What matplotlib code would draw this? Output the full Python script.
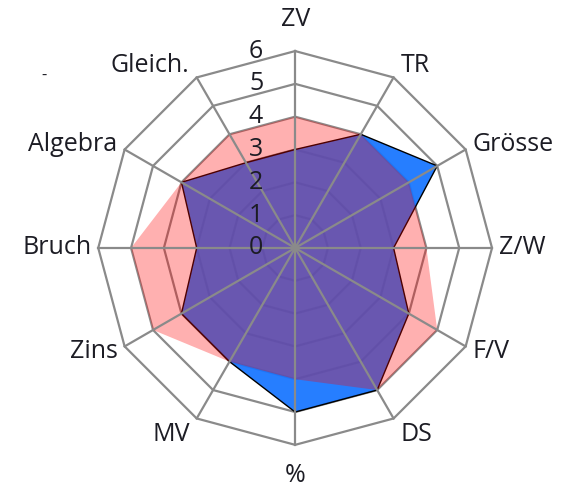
import numpy as np
import matplotlib
matplotlib.use("Agg")
import matplotlib.pyplot as plt

categories = ["ZV", "TR", "Grösse", "Z/W", "F/V", "DS", "%", "MV", "Zins", "Bruch", "Algebra", "Gleich."]
blue_vals = [3, 4, 5, 3, 4, 5, 5, 4, 4, 3, 4, 3]
red_vals = [4, 4, 4, 4, 5, 5, 4, 4, 5, 5, 4, 4]
levels = [0, 1, 2, 3, 4, 5, 6]

plt.rcParams['font.family'] = ['Open Sans', 'DejaVu Sans']

n = len(categories)
theta = np.arange(n) * 2 * np.pi / n
closed = np.append(theta, theta[0])

fig = plt.figure(figsize=(5.77, 4.91), dpi=100)
ax = fig.add_axes([0.170, 0.094, 0.683, 0.802], projection='polar')
ax.set_theta_zero_location('N')
ax.set_theta_direction(-1)
ax.set_ylim(0, 6)
ax.axis('off')

grey = '#8a8a8a'
txt = '#1c1c24'

# rings
for lv in levels[1:]:
    ax.plot(closed, [lv] * (n + 1), color=grey, lw=1.6, zorder=1, clip_on=False)

# series
bv = np.append(blue_vals, blue_vals[0])
rv = np.append(red_vals, red_vals[0])
ax.fill(closed, bv, color='#1574ff', alpha=0.93, lw=0, zorder=2)
ax.plot(closed, bv, color='black', lw=1.0, zorder=3)
ax.fill(closed, rv, color='#ff0000', alpha=0.31, lw=0, zorder=4)

# spokes
for t in theta:
    ax.plot([t, t], [0, 6], color=grey, lw=1.6, zorder=5, clip_on=False)

# value axis labels
for lv in levels:
    ax.annotate(str(lv), xy=(0, lv), xytext=(-32, 0), textcoords='offset pixels',
                ha='right', va='center', fontsize=18, color=txt, zorder=6)

# category labels
for t, lab in zip(theta, categories):
    s, c = np.sin(t), np.cos(t)
    if abs(s) < 0.1:
        ha, dx = 'center', 0
    elif s > 0:
        ha, dx = 'left', 7
    else:
        ha, dx = 'right', -7
    if c > 0.9:
        va, dy = 'bottom', 19
    elif c < -0.9:
        va, dy = 'top', -18
    elif c > 0.6:
        va, dy = 'bottom', -1
    elif c < -0.6:
        va, dy = 'top', -4
    else:
        va, dy = 'center', 10 * c
    ax.annotate(lab, xy=(t, 6), xytext=(dx, dy), textcoords='offset pixels',
                ha=ha, va=va, fontsize=18, color=txt, zorder=6)

fig.text(0.077, 0.845, '-', fontsize=12, color=txt, ha='center', va='center')

fig.savefig('out.png', dpi=100)
